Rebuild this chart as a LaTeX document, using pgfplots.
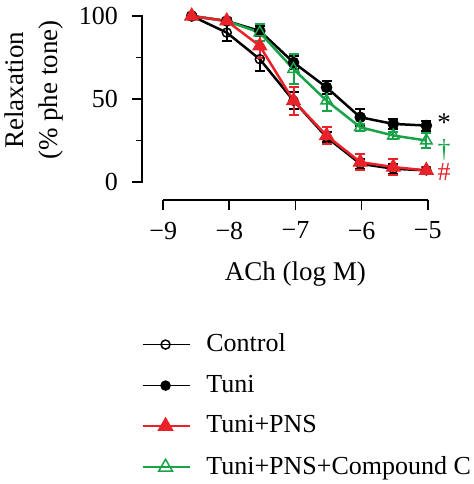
\documentclass[border=0pt]{standalone}
\usepackage{fontspec}
\setmainfont{Liberation Serif}
\usepackage{pgfplots}
\pgfplotsset{compat=1.18}
\definecolor{cred}{RGB}{232,34,40}
\definecolor{cgreen}{RGB}{24,163,72}
\begin{document}
\fontsize{26}{30}\selectfont
\begin{tikzpicture}
\begin{axis}[
  scale only axis, width=264.4pt, height=166pt,
  xmin=-9, xmax=-5, ymin=0, ymax=100,
  axis x line*=bottom, axis y line=none,
  axis x line shift=18pt,
  clip=false,
  xtick={-9,-8,-7,-6,-5},
  xticklabels={−9,−8,−7,−6,−5},
  xticklabel style={font=\fontsize{26}{30}\selectfont, yshift=-3pt},
  tick align=outside,
  major tick length=10pt,
  every tick/.style={line width=1.8pt, black},
  axis line style={line width=1.8pt, -},
  xlabel={ACh (log M)},
  xlabel style={font=\fontsize{27}{30}\selectfont, at={(axis description cs:0.5,-0.554)}, anchor=center},
  legend style={draw=none, fill=none, at={(axis description cs:-0.082,-0.9)}, anchor=north west,
    inner sep=0pt, row sep=15.5pt, cells={anchor=west}, font=\fontsize{26}{30}\selectfont,
    /tikz/every odd column/.append style={column sep=14pt}},
  legend cell align=left,
  legend image code/.code={%
    \draw[#1, mark=none, line width=1.5pt] (0pt,0pt) -- (47pt,0pt);
    \draw[#1, line width=1.5pt] plot coordinates {(23pt,0pt)};},
  error bars/y dir=both, error bars/y explicit,
  error bars/error bar style={line width=2pt},
  error bars/error mark options={rotate=90, mark size=5pt, line width=2pt},
]
% offset y axis (spine, ticks, labels)
\draw[line width=1.8pt, line cap=rect] (axis cs:-9.322,0) -- (axis cs:-9.322,100);
\draw[line width=1.8pt] (axis cs:-9.322,0) -- ++(-10pt,0pt);
\draw[line width=1.8pt] (axis cs:-9.322,50) -- ++(-10pt,0pt);
\draw[line width=1.8pt] (axis cs:-9.322,100) -- ++(-10pt,0pt);
\draw[line width=1.8pt] (axis cs:-9.322,25) -- ++(-6pt,0pt);
\draw[line width=1.8pt] (axis cs:-9.322,75) -- ++(-6pt,0pt);
\node[anchor=east, inner sep=0pt, xshift=-24pt, font=\fontsize{26}{30}\selectfont] at (axis cs:-9.322,0) {0};
\node[anchor=east, inner sep=0pt, xshift=-24pt, font=\fontsize{26}{30}\selectfont] at (axis cs:-9.322,50) {50};
\node[anchor=east, inner sep=0pt, xshift=-24pt, font=\fontsize{26}{30}\selectfont] at (axis cs:-9.322,100) {100};
\node[rotate=90, align=center, font=\fontsize{27}{34}\selectfont] at (rel axis cs:-0.489,0.554) {Relaxation\\(\% phe tone)};
\addplot[black, line width=2.5pt, mark=o, mark size=4.5pt, mark options={fill=white, line width=1.5pt}] coordinates {
(-8.57,100) +- (0,1)
(-8.04,90) +- (0,5)
(-7.54,74) +- (0,7)
(-7.03,49) +- (0,5)
(-6.53,27) +- (0,3)
(-6.02,11) +- (0,3)
(-5.52,8) +- (0,3)
(-5.02,7) +- (0,2)
};
\addlegendentry{Control}
\addplot[black, line width=2.5pt, mark=*, mark size=4.5pt] coordinates {
(-8.57,100) +- (0,1)
(-8.04,97) +- (0,2)
(-7.54,91) +- (0,3)
(-7.03,72) +- (0,4)
(-6.53,57) +- (0,4)
(-6.02,39) +- (0,5)
(-5.52,35) +- (0,3)
(-5.02,34) +- (0,3)
};
\addlegendentry{Tuni}
\addplot[forget plot, cgreen, line width=2.5pt, mark=triangle, mark size=6.5pt, mark options={fill=white, line width=1.5pt}] coordinates {
(-8.57,100) +- (0,1)
(-8.04,97) +- (0,2)
(-7.54,90) +- (0,5)
(-7.03,68) +- (0,9)
(-6.53,49) +- (0,6.5)
(-6.02,33) +- (0,2)
(-5.52,28) +- (0,2)
(-5.02,25) +- (0,4.5)
};
\addplot[forget plot, cred, line width=2.5pt, mark=triangle*, mark size=6.5pt] coordinates {
(-8.57,100) +- (0,1)
(-8.04,97) +- (0,2)
(-7.54,82) +- (0,7)
(-7.03,49) +- (0,8.5)
(-6.53,28) +- (0,5)
(-6.02,12) +- (0,5)
(-5.52,9) +- (0,5)
(-5.02,7) +- (0,2)
};
\addlegendimage{cred, line width=2.5pt, mark=triangle*, mark size=8pt}
\addlegendentry{Tuni+PNS}
\addlegendimage{cgreen, line width=2.5pt, mark=triangle, mark size=8pt, mark options={fill=white}}
\addlegendentry{Tuni+PNS+Compound C}
\node[black, inner sep=0pt, font=\fontsize{27}{30}\selectfont] at (axis cs:-4.75,35.8) {*};
\node[cgreen, inner sep=0pt, font=\fontsize{26}{30}\selectfont] at (axis cs:-4.75,19.5) {†};
\node[cred, inner sep=0pt, font=\fontsize{26}{30}\selectfont] at (axis cs:-4.75,5.8) {\#};
\coordinate (bbl) at (rel axis cs:-0.6176,-1.8193);
\coordinate (btr) at (rel axis cs:1.1751,1.0964);
\end{axis}
\pgfresetboundingbox
\path (bbl) rectangle (btr);
\end{tikzpicture}
\end{document}
